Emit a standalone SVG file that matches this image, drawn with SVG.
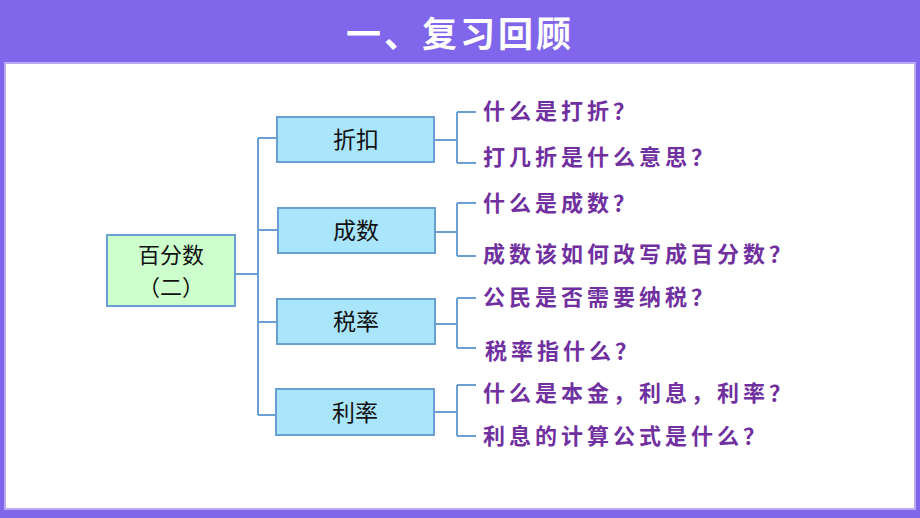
<svg xmlns="http://www.w3.org/2000/svg" width="920" height="518" viewBox="0 0 920 518">
<style>
.box{fill:#aae6fb;stroke:#6a9fd6;stroke-width:2}
.root{fill:#ccffcc;stroke:#6a9fd6;stroke-width:2}
.lbl{font-family:"Noto Sans CJK SC","Noto Sans",sans-serif;font-size:23px;fill:#111;text-anchor:middle}
.rl{font-family:"Noto Sans CJK SC","Noto Sans",sans-serif;font-size:22px;fill:#111;text-anchor:middle}
.q{font-family:"Noto Sans CJK SC","Noto Sans",sans-serif;font-size:22px;font-weight:bold;fill:#7030a0;letter-spacing:4px}
.conn{fill:none;stroke:#6a9fd6;stroke-width:2}
</style>
<rect x="0" y="0" width="920" height="518" fill="#8066ea"/>
<rect x="5" y="63" width="910" height="446" fill="#ffffff" stroke="#b9a8f3" stroke-width="2"/>
<text x="460" y="47" text-anchor="middle" font-family="'Noto Sans CJK SC',sans-serif" font-size="35" font-weight="bold" fill="#ffffff" letter-spacing="3">一、复习回顾</text>
<g id="connectors">
<path class="conn" d="M235,274 H258 M258,138 V415 M258,138 H277 M258,230 H278 M258,322 H277 M258,415 H276"/>
<path class="conn" d="M434,140 H457 M457,112 V163 M457,112 H476 M457,163 H476"/>
<path class="conn" d="M435,232 H457 M457,203 V256 M457,203 H476 M457,256 H476"/>
<path class="conn" d="M435,324 H457 M457,298 V348 M457,298 H476 M457,348 H476"/>
<path class="conn" d="M434,412 H457 M457,385 V436 M457,385 H476 M457,436 H476"/>
</g>
<g id="root"><rect class="root" x="107" y="235" width="128" height="71"/><text class="rl" x="171" y="263">百分数</text><text class="rl" x="171" y="295">（二）</text></g>
<g id="n1"><rect class="box" x="277" y="117" width="157" height="45"/><text class="lbl" x="356" y="148">折扣</text></g>
<g id="n2"><rect class="box" x="278" y="208" width="157" height="45"/><text class="lbl" x="356" y="239">成数</text></g>
<g id="n3"><rect class="box" x="277" y="299" width="158" height="45"/><text class="lbl" x="356" y="330">税率</text></g>
<g id="n4"><rect class="box" x="276" y="389" width="158" height="46"/><text class="lbl" x="355" y="421">利率</text></g>
<g id="q1"><text class="q" x="483" y="119">什么是打折？</text></g>
<g id="q2"><text class="q" x="483" y="165">打几折是什么意思？</text></g>
<g id="q3"><text class="q" x="483" y="211">什么是成数？</text></g>
<g id="q4"><text class="q" x="483" y="262">成数该如何改写成百分数？</text></g>
<g id="q5"><text class="q" x="483" y="305">公民是否需要纳税？</text></g>
<g id="q6"><text class="q" x="485" y="359">税率指什么？</text></g>
<g id="q7"><text class="q" x="483" y="401">什么是本金，利息，利率？</text></g>
<g id="q8"><text class="q" x="483" y="444">利息的计算公式是什么？</text></g>
</svg>
